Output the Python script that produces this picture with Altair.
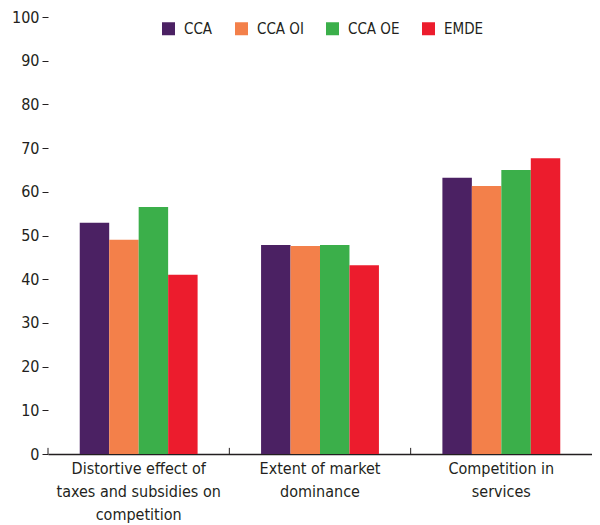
import altair as alt
import pandas as pd

categories = [
    "Distortive effect of|taxes and subsidies on|competition",
    "Extent of market|dominance",
    "Competition in|services",
]
series = ["CCA", "CCA OI", "CCA OE", "EMDE"]
cca = [52.9, 47.8, 63.2]
cca_oi = [49.0, 47.6, 61.3]
cca_oe = [56.5, 47.8, 65.0]
emde = [41.0, 43.2, 67.7]
colors = ["#4B2163", "#F3804A", "#3BAF4A", "#EC1C2D"]
y_ticks = [0, 10, 20, 30, 40, 50, 60, 70, 80, 90, 100]

rows = []
for s, vals in zip(series, [cca, cca_oi, cca_oe, emde]):
    for c, v in zip(categories, vals):
        rows.append({"category": c, "series": s, "value": v})
df = pd.DataFrame(rows)
ticks_df = pd.DataFrame({"category": categories})

FONT = "DejaVu Sans Condensed, DejaVu Sans, sans-serif"
TXT = "#231F20"

x_scale = alt.Scale(domain=categories, paddingInner=0.35, paddingOuter=0.175)
y_scale = alt.Scale(domain=[0, 100], nice=False)

bars = alt.Chart(df).mark_bar().encode(
    x=alt.X("category:N", scale=x_scale, sort=categories,
            axis=alt.Axis(title=None, labelAngle=0, ticks=False, tickSize=0,
                          labelExpr="split(datum.label, '|')",
                          labelFontSize=16, labelLineHeight=23, labelPadding=6,
                          labelColor=TXT, labelFont=FONT,
                          domainColor="#231F20", domainWidth=1.5)),
    xOffset=alt.XOffset("series:N", sort=series,
                        scale=alt.Scale(paddingInner=0, paddingOuter=0)),
    y=alt.Y("value:Q", scale=y_scale,
            axis=alt.Axis(title=None, values=y_ticks, domain=False, grid=False,
                          tickSize=6, tickColor="#231F20", labelPadding=3,
                          labelFontSize=16, labelColor=TXT, labelFont=FONT)),
    color=alt.Color("series:N", sort=series,
                    scale=alt.Scale(domain=series, range=colors),
                    legend=alt.Legend(title=None, orient="none", direction="horizontal",
                                      legendX=113, legendY=4,
                                      symbolType="square", symbolSize=169,
                                      symbolStrokeWidth=0, symbolOpacity=1,
                                      labelFontSize=15, labelFont=FONT, labelColor=TXT,
                                      labelOffset=8, columnPadding=21)),
)

xticks = alt.Chart(ticks_df).mark_rule(color="#231F20", strokeWidth=1).encode(
    x=alt.X("category:N", sort=categories, bandPosition=0,
            scale=alt.Scale(domain=categories, paddingInner=0, paddingOuter=0),
            axis=None),
    y=alt.datum(0),
    y2=alt.datum(1.4),
)

chart = alt.layer(bars, xticks).resolve_scale(x="independent").properties(
    width=544,
    height=437,
    autosize=alt.AutoSizeParams(type="none"),
    padding={"left": 40, "top": 9, "right": 0, "bottom": 70},
).configure_view(stroke=None)

chart.save("out.html", embed_options={"renderer": "svg", "actions": False})
